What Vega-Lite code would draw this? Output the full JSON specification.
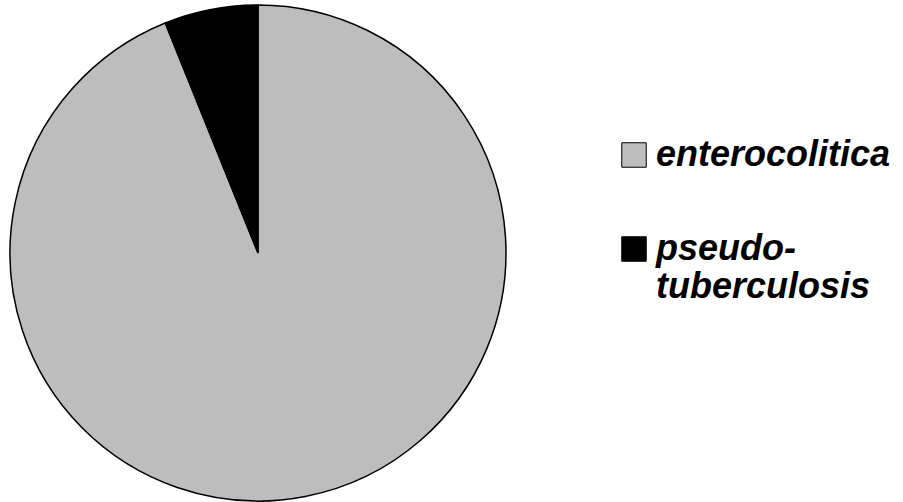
{
  "$schema": "https://vega.github.io/schema/vega-lite/v6.json",
  "width": 516,
  "height": 506,
  "autosize": "none",
  "padding": {"left": 0, "top": 0, "right": 387, "bottom": 0},
  "background": "white",
  "view": {"stroke": null},
  "data": {
    "values": [
      {"species": "enterocolitica", "percent": 93.9},
      {"species": "pseudotuberculosis", "percent": 6.1}
    ]
  },
  "mark": {"type": "arc", "outerRadius": 248, "stroke": "black", "strokeWidth": 1.5},
  "encoding": {
    "theta": {"field": "percent", "type": "quantitative", "stack": true},
    "order": {"field": "species"},
    "color": {
      "field": "species",
      "type": "nominal",
      "scale": {"domain": ["enterocolitica", "pseudotuberculosis"], "range": ["#bdbdbd", "#000000"]},
      "legend": {
        "title": null,
        "orient": "none",
        "legendX": 616,
        "legendY": 137,
        "symbolType": "square",
        "symbolSize": 600,
        "symbolStrokeColor": "black",
        "symbolStrokeWidth": 1,
        "symbolOpacity": 1,
        "labelFont": "Liberation Sans",
        "labelFontSize": 36,
        "labelFontWeight": "bold",
        "labelFontStyle": "italic",
        "labelColor": "black",
        "labelOffset": 4,
        "labelLimit": 0,
        "labelLineHeight": 46,
        "rowPadding": 58,
        "labelExpr": "datum.label == 'pseudotuberculosis' ? ['pseudo-', 'tuberculosis'] : datum.label"
      }
    }
  }
}
